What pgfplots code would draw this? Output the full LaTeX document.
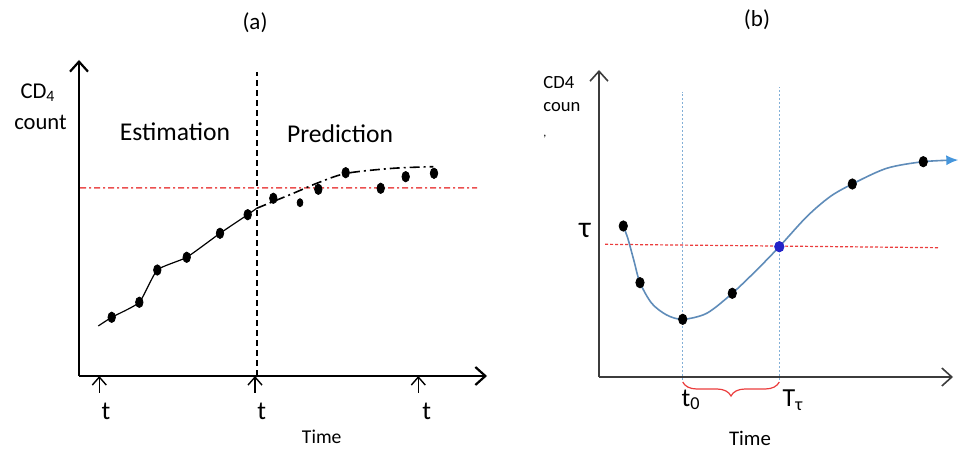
\documentclass[border=0pt]{standalone}
\usepackage{pgfplots}
\pgfplotsset{compat=1.18}
\usepackage{fontspec}
\setmainfont{Carlito}
\usetikzlibrary{arrows.meta,decorations.pathreplacing}
\definecolor{refred}{RGB}{235,60,60}
\definecolor{linered}{RGB}{235,80,80}
\definecolor{curveblue}{RGB}{95,140,185}
\definecolor{tipblue}{RGB}{70,150,220}
\definecolor{guideblue}{RGB}{130,175,215}
\definecolor{dotblue}{RGB}{35,35,200}
\definecolor{axisgray}{RGB}{60,60,60}
\begin{document}
\begin{tikzpicture}[x=0.5pt,y=0.5pt]
\useasboundingbox (0,0) rectangle (963,449);
% ---------------- panel (a)
\begin{axis}[at={(39.5pt,36.5pt)}, anchor=south west,
  width=204pt, height=158pt, scale only axis,
  xmin=79, xmax=487, ymin=73, ymax=389,
  axis lines=left, xtick=\empty, ytick=\empty, clip=false,
  axis line style={black, line width=1.1pt, -{Straight Barb[length=5pt,width=9pt]}}]
\addplot[draw=linered, line width=0.75pt, dash pattern=on 3pt off 1.5pt on 1pt off 1.5pt] coordinates {(80,261) (477,261.2)};
\addplot[black, line width=0.6pt, smooth, tension=0.3] coordinates {
 (98.3,123) (111.7,131.7) (139.3,146.7) (157.3,179) (186.7,191.7) (220,215.7) (247.7,234.3) (256.7,240.7)};
\addplot[black, line width=0.8pt, dash pattern=on 5pt off 2pt on 1pt off 2pt, smooth] coordinates {
 (256.7,240.7) (293.3,255.7) (318.3,266.3) (346.7,275.7) (393.3,280.7) (433.3,282.3)};
\addplot[black, line width=0.8pt, dash pattern=on 3pt off 2pt] coordinates {(256.7,73) (256.7,377.3)};
\addplot[only marks, mark=*, mark size=2.6pt, mark options={xscale=0.72, black}] coordinates {
 (111.7,131.7) (139.3,146.7) (157.3,179) (186.7,191.7) (220,215.7) (247.7,234.3)
 (273.3,250.7) (318.3,259.7) (345.7,276.3) (380.7,260.7) (405.7,272.3) (434,275.7)};
\addplot[only marks, mark=*, mark size=2pt, mark options={xscale=0.72, black}] coordinates {(300,246.3)};
\draw[line width=0.7pt, -{Straight Barb[length=4pt,width=7pt]}] (axis cs:99.3,56) -- (axis cs:99.3,73);
\draw[line width=0.7pt, -{Straight Barb[length=4pt,width=7pt]}] (axis cs:255,56) -- (axis cs:255,73);
\draw[line width=0.7pt, -{Straight Barb[length=4pt,width=7pt]}] (axis cs:418.3,56) -- (axis cs:418.3,73);
\end{axis}
% ---------------- panel (b)
\begin{axis}[at={(299.5pt,36pt)}, anchor=south west,
  width=177pt, height=153.5pt, scale only axis,
  xmin=599, xmax=953, ymin=72, ymax=379,
  axis lines=left, xtick=\empty, ytick=\empty, clip=false,
  axis line style={axisgray, line width=0.8pt, -{Straight Barb[length=5pt,width=9pt]}}]
\addplot[guideblue, line width=0.5pt, dash pattern=on 1pt off 1pt] coordinates {(682.7,69) (682.7,357.3)};
\addplot[guideblue, line width=0.5pt, dash pattern=on 1pt off 1pt] coordinates {(779.3,69) (779.3,362)};
\addplot[refred, line width=0.6pt, dash pattern=on 1.5pt off 1pt] coordinates {(605,204.7) (938.3,201.3)};
\addplot[curveblue, line width=0.8pt, smooth, tension=0.5, -{Latex[length=6pt,width=5pt,color=tipblue]}] coordinates {
 (623.3,223) (628,210) (634,188) (640,166.3) (651.7,145.7) (666.7,134) (682.7,129.7) (706.7,135.7)
 (732.3,155.7) (756.7,179) (779.3,202.3) (806.7,232.3) (830,252.3) (852.3,265)
 (886.7,280.7) (923.3,287.3) (958.3,289)};
\addplot[only marks, mark=*, mark size=2.6pt, mark options={xscale=0.8, black}] coordinates {
 (623.3,223) (640,166.3) (682.7,129.7) (732.3,155.7) (852.3,265) (923.3,287.3)};
\addplot[only marks, mark=*, mark size=2.6pt, mark options={xscale=0.9, dotblue}] coordinates {(779.3,202.3)};
\draw[refred, line width=0.6pt, decorate, decoration={brace, mirror, amplitude=7pt}] (axis cs:682.7,67) -- (axis cs:779.3,67);
\end{axis}
% ---------------- texts (a)
\node[font=\fontsize{11.5}{13}\selectfont] at (255,426) {(a)};
\node[font=\fontsize{11.3}{13}\selectfont] at (38,356) {CD\textsubscript{4}};
\node[font=\fontsize{11.3}{13}\selectfont] at (40.5,327) {count};
\node[font=\fontsize{12.8}{15}\selectfont] at (175,317) {Estimation};
\node[font=\fontsize{12.8}{15}\selectfont] at (340,315.5) {Prediction};
\node[font=\fontsize{13}{15}\selectfont] at (106,38) {t};
\node[font=\fontsize{13}{15}\selectfont] at (261.7,38) {t};
\node[font=\fontsize{13}{15}\selectfont] at (426.7,38) {t};
\node[font=\fontsize{9.8}{12}\selectfont] at (321.7,12) {Time};
% ---------------- texts (b)
\node[font=\fontsize{11.5}{13}\selectfont] at (757,429) {(b)};
\node[font=\fontsize{9.3}{11}\selectfont, anchor=west, inner sep=0pt] at (543,366) {CD4};
\node[font=\fontsize{9.3}{11}\selectfont, anchor=west, inner sep=0pt] at (543,342) {coun};
\node[font=\fontsize{6}{7}\selectfont, anchor=west, inner sep=0pt] at (543,312) {,};
\node[font=\fontsize{15}{17}\selectfont] at (585,219) {τ};
\node[font=\fontsize{13}{15}\selectfont] at (691,49) {t\textsubscript{0}};
\node[font=\fontsize{13}{15}\selectfont] at (793,49) {T\textsubscript{τ}};
\node[font=\fontsize{10.4}{12}\selectfont, inner sep=1pt] at (750,11) {Time};
\end{tikzpicture}
\end{document}
